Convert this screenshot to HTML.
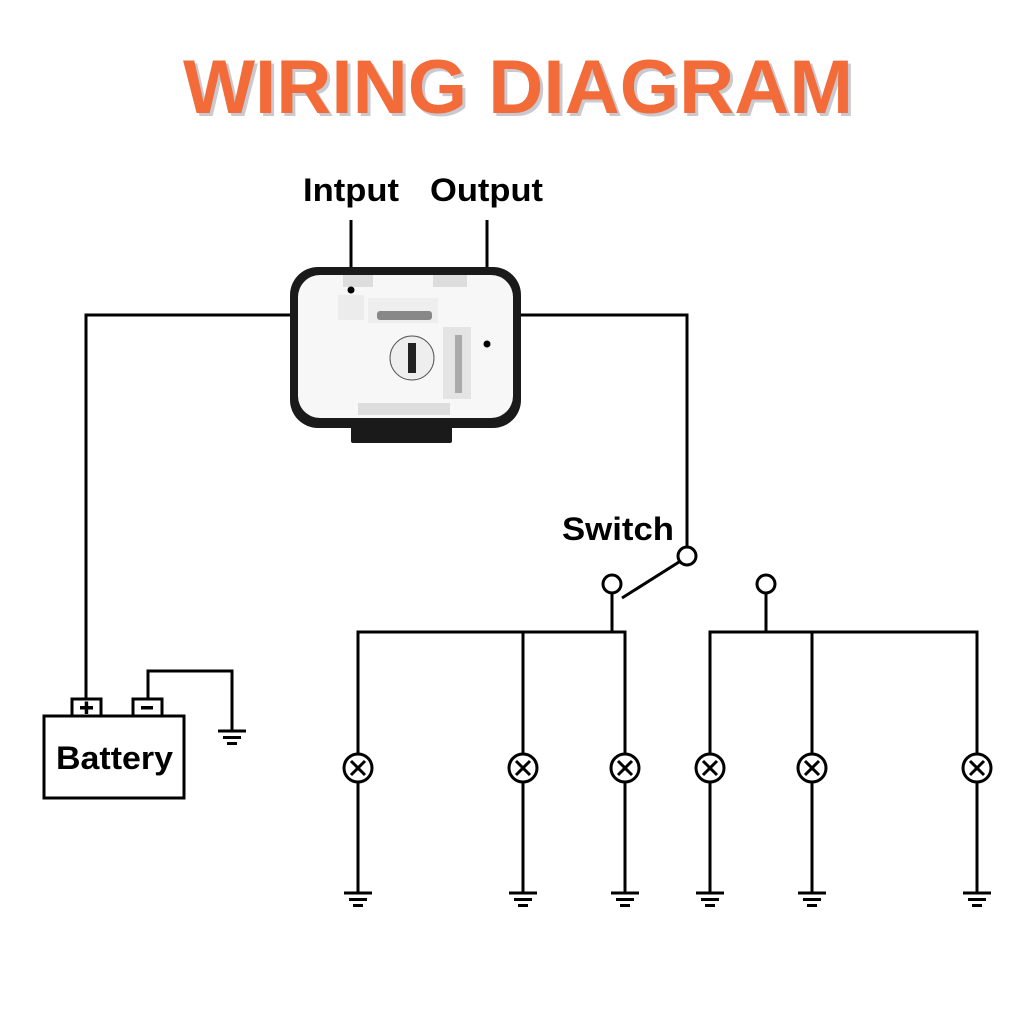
<!DOCTYPE html>
<html><head><meta charset="utf-8"><style>html,body{margin:0;padding:0;background:#fff}</style></head>
<body>
<svg width="1024" height="1024" viewBox="0 0 1024 1024" xmlns="http://www.w3.org/2000/svg" font-family="Liberation Sans, Arial, sans-serif" font-weight="bold">
<rect width="1024" height="1024" fill="#fff"/>
<text x="186" y="116" font-size="76" fill="#c9c9cf" textLength="670" lengthAdjust="spacingAndGlyphs">WIRING DIAGRAM</text>
<text x="183" y="113" font-size="76" fill="#f26b38" textLength="670" lengthAdjust="spacingAndGlyphs">WIRING DIAGRAM</text>
<text x="303" y="201" font-size="32" fill="#000" textLength="96" lengthAdjust="spacingAndGlyphs">Intput</text>
<text x="430" y="201" font-size="32" fill="#000" textLength="113" lengthAdjust="spacingAndGlyphs">Output</text>
<text x="562" y="540" font-size="32" fill="#000" textLength="112" lengthAdjust="spacingAndGlyphs">Switch</text>
<text x="56" y="769" font-size="32" fill="#000" textLength="117" lengthAdjust="spacingAndGlyphs">Battery</text>
<g stroke="#000" stroke-width="3" fill="none">
<polyline points="290,315 86,315 86,700"/>
<polyline points="521,315 687,315 687,547"/>
<line x1="351" y1="220" x2="351" y2="287"/>
<line x1="487" y1="220" x2="487" y2="342"/>
<rect x="44" y="716" width="140" height="82"/>
<rect x="72" y="699" width="29" height="17"/>
<rect x="133" y="699" width="29" height="17"/>
<polyline points="148,699 148,671 232,671 232,731"/>
<circle cx="687" cy="556" r="9"/>
<line x1="622" y1="598" x2="679" y2="562"/>
<circle cx="612" cy="584" r="9"/>
<line x1="612" y1="593" x2="612" y2="632"/>
<circle cx="766" cy="584" r="9"/>
<line x1="766" y1="593" x2="766" y2="632"/>
<polyline points="358,893 358,632 625,632 625,893"/>
<line x1="523" y1="632" x2="523" y2="893"/>
<polyline points="710,893 710,632 977,632 977,893"/>
<line x1="812" y1="632" x2="812" y2="893"/>
</g>
<g stroke="#000" stroke-width="3" fill="#fff">
<circle cx="358" cy="768" r="14"/><circle cx="523" cy="768" r="14"/><circle cx="625" cy="768" r="14"/>
<circle cx="710" cy="768" r="14"/><circle cx="812" cy="768" r="14"/><circle cx="977" cy="768" r="14"/>
</g>
<g stroke="#000" stroke-width="3">
<path d="M351,761l14,14M365,761l-14,14M516,761l14,14M530,761l-14,14M618,761l14,14M632,761l-14,14M703,761l14,14M717,761l-14,14M805,761l14,14M819,761l-14,14M970,761l14,14M984,761l-14,14"/>
</g>
<g fill="#000">
<rect x="80" y="706" width="13" height="3.5"/>
<rect x="84.7" y="701.5" width="3.5" height="12.5"/>
<rect x="141" y="706" width="12" height="3.5"/>
</g>
<defs><g id="gnd" fill="#000"><rect x="-14" y="-1.5" width="28" height="3"/><rect x="-9" y="5" width="18" height="3"/><rect x="-5" y="11" width="10" height="3"/></g></defs>
<use href="#gnd" x="232" y="731"/>
<use href="#gnd" x="358" y="893"/><use href="#gnd" x="523" y="893"/><use href="#gnd" x="625" y="893"/>
<use href="#gnd" x="710" y="893"/><use href="#gnd" x="812" y="893"/><use href="#gnd" x="977" y="893"/>
<rect x="351" y="412" width="101" height="31" rx="2" fill="#1a1a1a"/>
<rect x="290" y="267" width="231" height="161" rx="28" fill="#1a1a1a"/>
<rect x="298" y="275" width="215" height="143" rx="22" fill="#f7f7f7"/>
<rect x="343" y="275" width="30" height="12" fill="#ddd"/>
<rect x="433" y="275" width="34" height="12" fill="#ddd"/>
<rect x="338" y="295" width="26" height="25" fill="#ececec"/>
<rect x="368" y="298" width="70" height="25" fill="#eee"/>
<rect x="377" y="311" width="55" height="9" rx="3" fill="#888"/>
<circle cx="412" cy="358" r="22" fill="#eee" stroke="#555" stroke-width="1"/>
<rect x="408" y="343" width="8" height="30" fill="#222"/>
<rect x="443" y="327" width="28" height="72" fill="#e4e4e4"/>
<rect x="455" y="335" width="7" height="58" fill="#aaa"/>
<rect x="358" y="403" width="92" height="12" fill="#ddd"/>
<circle cx="351" cy="290" r="3.5" fill="#000"/>
<circle cx="487" cy="344" r="3.5" fill="#000"/>
</svg>
</body></html>
